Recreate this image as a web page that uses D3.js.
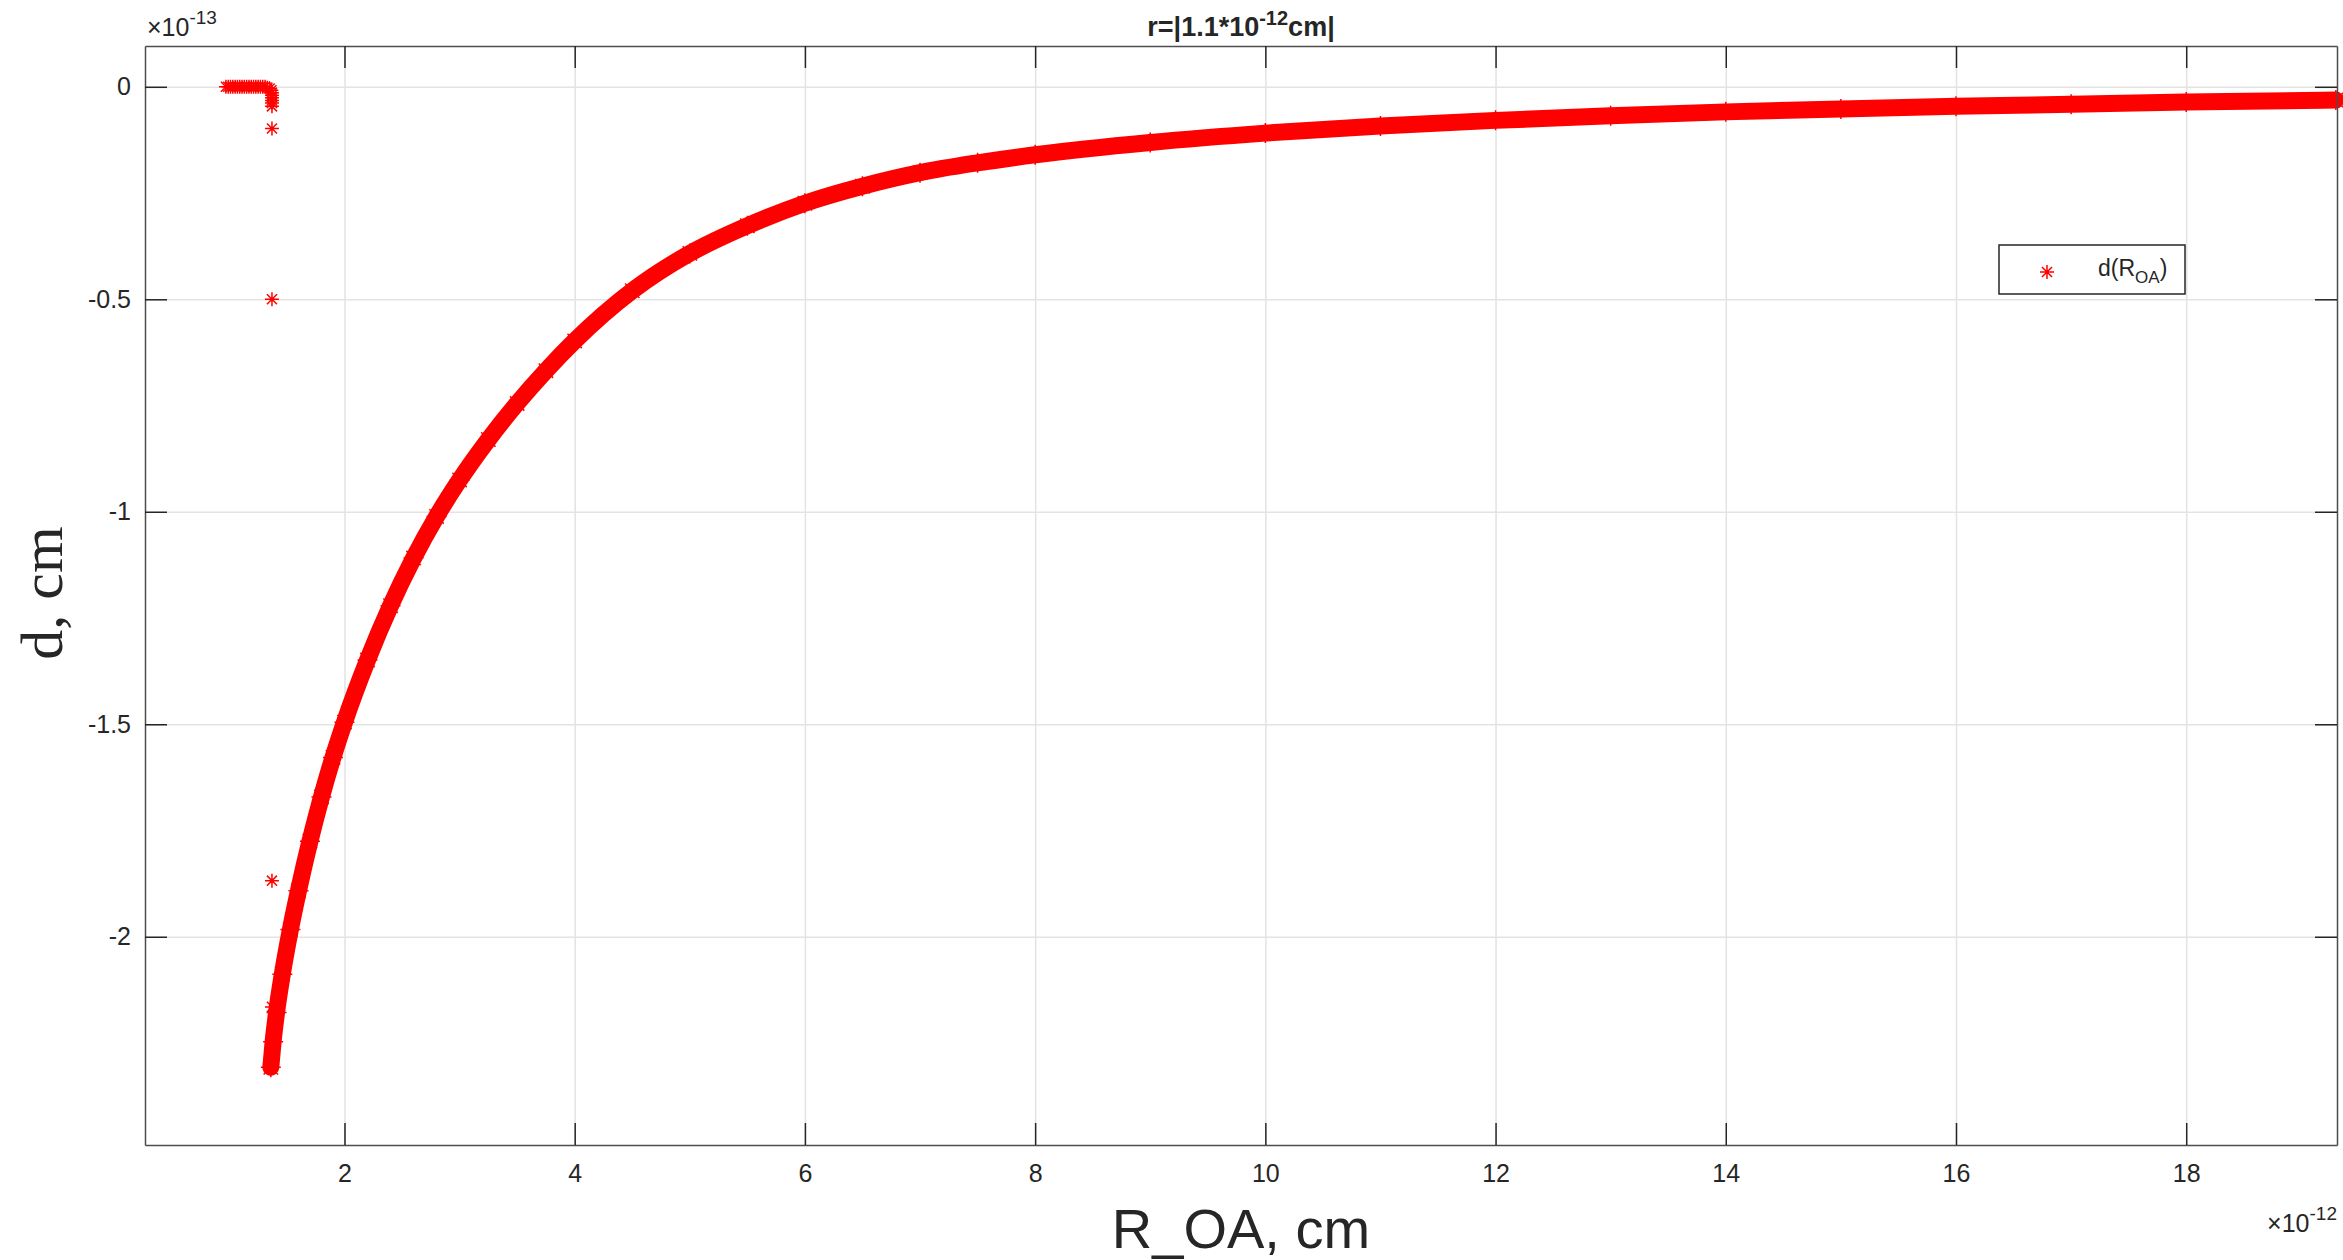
<!DOCTYPE html>
<html>
<head>
<meta charset="utf-8">
<script src="https://cdn.jsdelivr.net/npm/d3@7"></script>
<style>
  body { margin: 0; background: #fff; }
  text { font-family: 'Liberation Sans', Arial, sans-serif; fill: #262626; }
</style>
</head>
<body>
<script>
// main curve d(R_OA) (x in 1e-12 cm, y in 1e-13 cm)
var rOA = [1.36, 1.38, 1.41, 1.46, 1.53, 1.60, 1.70, 1.80, 1.90, 2.00, 2.20, 2.40, 2.60, 2.80, 3.00, 3.25,
  3.50, 3.75, 4.00, 4.50, 5.00, 5.50, 6.00, 6.50, 7.00, 7.50, 8.00, 9.00, 10.0, 11.0, 12.0,
  13.0, 14.0, 15.0, 16.0, 17.0, 18.0, 19.3]
var dVals = [-2.307, -2.247, -2.178, -2.088, -1.983, -1.892, -1.775, -1.671, -1.578, -1.495, -1.349, -1.221, -1.109, -1.011, -0.925, -0.83,
  -0.745, -0.668, -0.598, -0.48, -0.392, -0.327, -0.274, -0.234, -0.202, -0.179, -0.16, -0.131, -0.109, -0.092, -0.079,
  -0.068, -0.059, -0.052, -0.046, -0.041, -0.036, -0.031]

// the stray points near R_OA = 1.37
var hookR = [0.97, 0.99, 1.01, 1.03, 1.05, 1.07, 1.09, 1.11, 1.13, 1.15, 1.17, 1.19, 1.21, 1.23, 1.25, 1.27, 1.29, 1.31, 1.33, 1.35,
  1.365, 1.37, 1.37, 1.37, 1.37, 1.37, 1.37, 1.37, 1.37, 1.37, 1.37, 1.37]
var hookD = [0, 0, 0, 0, 0, 0, 0, 0, 0, 0, 0, 0, 0, 0, 0, 0, 0, 0, -0.002, -0.004,
  -0.008, -0.014, -0.020, -0.026, -0.032, -0.038, -0.046, -0.098, -0.5, -1.868, -2.165, -2.24]

var xTicks = [2, 4, 6, 8, 10, 12, 14, 16, 18]
var yTicks = [0, -0.5, -1, -1.5, -2]

var W = 2343, H = 1260
var margin = { top: 46, right: 6, bottom: 115, left: 145 }
var width = W - margin.left - margin.right
var height = H - margin.top - margin.bottom

var x = d3.scaleLinear().domain([0.267, 19.31]).range([0, width])
var y = d3.scaleLinear().domain([-2.49, 0.096]).range([height, 0])

var svg = d3.select('body').append('svg')
  .attr('width', W)
  .attr('height', H)

svg.append('rect').attr('width', W).attr('height', H).attr('fill', '#fff')

var g = svg.append('g')
  .attr('transform', 'translate(' + margin.left + ',' + margin.top + ')')

// grid
g.append('g')
  .call(d3.axisBottom(x).tickValues(xTicks).tickSize(height).tickFormat(''))
  .call(function (s) { s.select('.domain').remove() })
  .selectAll('line').attr('stroke', '#e3e3e3').attr('stroke-width', 1.5)
g.append('g')
  .call(d3.axisRight(y).tickValues(yTicks).tickSize(width).tickFormat(''))
  .call(function (s) { s.select('.domain').remove() })
  .selectAll('line').attr('stroke', '#e3e3e3').attr('stroke-width', 1.5)

// data
var star = function (h) {
  var a = h * 0.72
  return 'M' + -h + ',0L' + h + ',0M0,' + -h + 'L0,' + h +
    'M' + -a + ',' + -a + 'L' + a + ',' + a + 'M' + -a + ',' + a + 'L' + a + ',' + -a
}

var pts = rOA.map(function (r, i) { return [r, dVals[i]] })

g.append('path')
  .datum(pts)
  .attr('fill', 'none')
  .attr('stroke', '#ff0000')
  .attr('stroke-width', 17)
  .attr('stroke-linecap', 'round')
  .attr('stroke-linejoin', 'round')
  .attr('d', d3.line().x(function (d) { return x(d[0]) }).y(function (d) { return y(d[1]) }).curve(d3.curveMonotoneX))

g.append('g').selectAll('path')
  .data(pts)
  .join('path')
  .attr('transform', function (d) { return 'translate(' + x(d[0]) + ',' + y(d[1]) + ')' })
  .attr('d', star(10))
  .attr('stroke', '#ff0000')
  .attr('stroke-width', 1.5)
  .attr('fill', 'none')

g.append('g').selectAll('path')
  .data(hookR.map(function (r, i) { return [r, hookD[i]] }))
  .join('path')
  .attr('transform', function (d) { return 'translate(' + x(d[0]) + ',' + y(d[1]) + ')' })
  .attr('d', star(7))
  .attr('stroke', '#ff0000')
  .attr('stroke-width', 1.5)
  .attr('fill', 'none')

// axes, ticks inside on all four sides
function styleAxis (s) {
  s.select('.domain').attr('stroke', '#4d4d4d').attr('stroke-width', 1.5)
  s.selectAll('.tick line').attr('stroke', '#262626').attr('stroke-width', 1.5)
  s.selectAll('text').attr('font-size', 25).attr('fill', '#262626')
    .style('font-family', "'Liberation Sans', Arial, sans-serif")
}

g.append('g')
  .attr('transform', 'translate(0,' + height + ')')
  .call(d3.axisBottom(x).tickValues(xTicks).tickSizeInner(-22).tickSizeOuter(0).tickPadding(19).tickFormat(d3.format('d')))
  .call(styleAxis)
g.append('g')
  .call(d3.axisTop(x).tickValues(xTicks).tickSizeInner(-22).tickSizeOuter(0).tickFormat(''))
  .call(styleAxis)
g.append('g')
  .call(d3.axisLeft(y).tickValues(yTicks).tickSizeInner(-22).tickSizeOuter(0).tickPadding(14).tickFormat(function (d) { return d3.format('')(d).replace('−', '-') }))
  .call(styleAxis)
g.append('g')
  .attr('transform', 'translate(' + width + ',0)')
  .call(d3.axisRight(y).tickValues(yTicks).tickSizeInner(-22).tickSizeOuter(0).tickFormat(''))
  .call(styleAxis)

// exponent labels
var ex = svg.append('text').attr('x', margin.left + 2).attr('y', 36).attr('font-size', 25).attr('fill', '#262626')
ex.append('tspan').text('×10')
ex.append('tspan').attr('dy', -12).attr('font-size', 19).text('-13')

var ex2 = svg.append('text').attr('x', margin.left + width).attr('y', 1232).attr('text-anchor', 'end').attr('font-size', 25).attr('fill', '#262626')
ex2.append('tspan').text('×10')
ex2.append('tspan').attr('dy', -12).attr('font-size', 19).text('-12')

// title
var t = svg.append('text').attr('x', margin.left + width / 2).attr('y', 36)
  .attr('text-anchor', 'middle').attr('font-size', 27).attr('font-weight', 'bold').attr('fill', '#000')
t.append('tspan').text('r=|1.1*10')
t.append('tspan').attr('dy', -11).attr('font-size', 20).text('-12')
t.append('tspan').attr('dy', 11).text('cm|')

// axis labels
svg.append('text')
  .attr('x', margin.left + width / 2)
  .attr('y', 1248)
  .attr('text-anchor', 'middle')
  .attr('font-size', 56)
  .attr('fill', '#262626')
  .text('R_OA, cm')

svg.append('text')
  .attr('transform', 'translate(62,593) rotate(-90)')
  .attr('text-anchor', 'middle')
  .attr('font-size', 60)
  .attr('fill', '#262626')
  .style('font-family', "'Liberation Serif', 'Times New Roman', serif")
  .text('d, cm')

// legend
var lg = svg.append('g').attr('transform', 'translate(1999,245)')
lg.append('rect').attr('width', 186).attr('height', 49).attr('fill', '#fff').attr('stroke', '#262626').attr('stroke-width', 1.5)
lg.append('path').attr('transform', 'translate(48,27)').attr('d', star(7)).attr('stroke', '#ff0000').attr('stroke-width', 1.5).attr('fill', 'none')
var lt = lg.append('text').attr('x', 99).attr('y', 31).attr('font-size', 23).attr('fill', '#000')
lt.append('tspan').text('d(R')
lt.append('tspan').attr('dy', 7).attr('font-size', 17).text('OA')
lt.append('tspan').attr('dy', -7).text(')')
</script>
</body>
</html>
